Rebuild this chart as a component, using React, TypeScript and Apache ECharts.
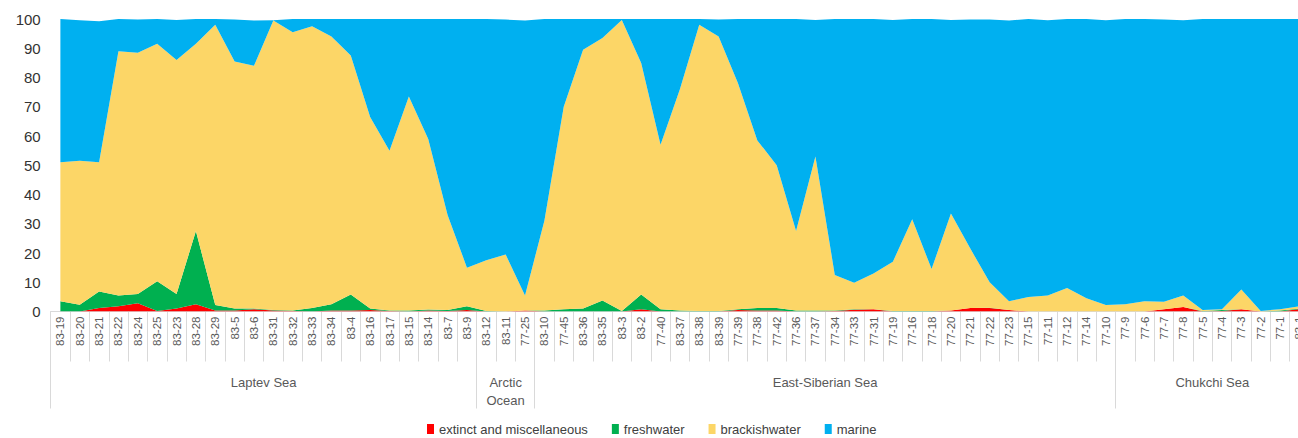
import React, { useEffect, useRef } from "react";
import * as echarts from "echarts";

const categories = [
  "83-19", "83-20", "83-21", "83-22", "83-24", "83-25", "83-23", "83-28", "83-29", "83-5", "83-6",
  "83-31", "83-32", "83-33", "83-34", "83-4", "83-16", "83-17", "83-15", "83-14", "83-7", "83-9",
  "83-12", "83-11", "77-25",
  "83-10", "77-45", "83-36", "83-35", "83-3", "83-2", "77-40", "83-37", "83-38", "83-39", "77-39",
  "77-38", "77-42", "77-36", "77-37", "77-34", "77-33", "77-31", "77-19", "77-16", "77-18", "77-20",
  "77-21", "77-22", "77-23", "77-15", "77-11", "77-12", "77-14", "77-10",
  "77-9", "77-6", "77-7", "77-8", "77-5", "77-4", "77-3", "77-2", "77-1", "83-1",
];

const groupNames = ["Laptev Sea", "Arctic\nOcean", "East-Siberian Sea", "Chukchi Sea"];
const groupCounts = [22, 3, 30, 10];

const extinct = [
  0, 0, 1.2, 1.8, 2.8, 0.2, 1, 2.5, 0.3, 0.3, 0.8, 0.3, 0.2, 0, 0.3, 0.3, 0.5, 0.2, 0, 0.3, 0.2, 0.5,
  0, 0, 0.3,
  0, 0, 0, 0, 0, 0.8, 0, 0, 0, 0, 0.5, 0.3, 0.3, 0, 0, 0.2, 0.6, 0.8, 0, 0, 0, 0.3, 1.2, 1.2, 0.5, 0, 0, 0, 0, 0,
  0, 0, 0.8, 1.5, 0, 0.2, 0.8, 0, 0, 0.8,
];
const freshwater = [
  3.5, 2.3, 5.6, 3.7, 3.2, 10.1, 5, 25, 1.9, 0.7, 0.2, 0.2, 0.1, 1.2, 2.2, 5.5, 0.5, 0.1, 0.3, 0.4, 0.3, 1.3,
  0.2, 0, 0,
  0.3, 0.8, 1, 3.8, 0.2, 5, 0.8, 0.3, 0.2, 0.2, 0.3, 0.9, 0.9, 0.3, 0.3, 0.1, 0.2, 0, 0.2, 0.2, 0.2, 0, 0, 0.1, 0, 0, 0, 0, 0, 0,
  0, 0, 0, 0, 0.2, 0.3, 0, 0, 0.3, 0.2,
];
const brackishwater = [
  47.5, 49.2, 44.2, 83.5, 82.5, 81.2, 80, 64, 95.8, 84.5, 83, 99, 95.2, 96.3, 91.5, 81.7, 65.5, 54.7, 73.2, 58.3, 32.5, 13.2,
  17.3, 19.5, 5.2,
  30.7, 69.2, 88.5, 89.7, 99.5, 79.2, 56.2, 75.7, 97.8, 93.8, 77.2, 57.3, 48.8, 27.2, 52.7, 12.2, 9, 12.2, 16.8, 31.3, 14.3, 33.2,
  20.3, 8.7, 3, 5, 5.5, 8, 4.5, 2.2,
  2.5, 3.5, 2.5, 4, 0.3, 0.3, 6.7, 0.2, 0.5, 0.8,
];
const marine = [
  49, 48.1, 48.2, 11, 11.3, 8.5, 13.7, 8.5, 2, 14.3, 15.5, 0.1, 4.5, 2.5, 6, 12.5, 33.5, 45, 26.5, 41, 67, 85,
  82.5, 80.3, 94,
  69, 30, 10.5, 6.5, 0.3, 15, 43, 24, 2, 5.8, 22, 41.5, 50, 72.5, 46.7, 87.5, 90.2, 87, 82.7, 68.5, 85.5, 66.2,
  78.3, 89.8, 96, 95, 94.1, 92, 95.5, 97.4,
  97.5, 96.5, 96.5, 94.1, 99.5, 99.2, 92.5, 99.8, 99.2, 98.2,
];

const seriesNames = ["extinct and miscellaneous", "freshwater", "brackishwater", "marine"];
const seriesColors = ["#FF0000", "#00B050", "#FCD667", "#00B0F0"];
const seriesData = [extinct, freshwater, brackishwater, marine];

export default function App() {
  const ref = useRef<HTMLDivElement>(null);
  useEffect(() => {
    if (!ref.current) return;
    const chart = echarts.init(ref.current, null, { renderer: "svg" });

    const boundaries: number[] = [0];
    const centers: number[] = [];
    let acc = 0;
    groupCounts.forEach((c) => {
      centers.push(acc + c / 2);
      acc += c;
      boundaries.push(acc);
    });

    const font = "'Liberation Sans', Arial, sans-serif";

    chart.setOption({
      animation: false,
      backgroundColor: "#ffffff",
      textStyle: { fontFamily: font },
      grid: {
        left: 50.7,
        top: 19,
        width: categories.length * 19.36,
        height: 292.5,
        containLabel: false,
        outerBoundsMode: "none",
      },
      legend: {
        show: true,
        left: 427,
        top: 422,
        padding: 0,
        itemWidth: 7,
        itemHeight: 10,
        itemGap: 24,
        icon: "rect",
        textStyle: { fontSize: 13, color: "#404040", fontFamily: font, lineHeight: 14 },
        data: seriesNames,
      },
      xAxis: [
        {
          type: "category",
          data: categories,
          boundaryGap: true,
          position: "bottom",
          axisLine: { show: true, lineStyle: { color: "#d9d9d9", width: 1 } },
          axisTick: { show: true, interval: 0, length: 50, lineStyle: { color: "#d9d9d9", width: 1 } },
          axisLabel: {
            interval: 0,
            rotate: 90,
            margin: 5,
            fontSize: 11.5,
            color: "#595959",
            fontFamily: font,
          },
          splitLine: { show: false },
        },
        {
          type: "value",
          min: 0,
          max: categories.length,
          position: "bottom",
          axisLine: { show: false },
          axisTick: {
            show: true,
            length: 97,
            customValues: boundaries,
            lineStyle: { color: "#d9d9d9", width: 1 },
          },
          axisLabel: {
            show: true,
            customValues: centers,
            margin: 62,
            fontSize: 13,
            lineHeight: 18,
            color: "#595959",
            fontFamily: font,
            verticalAlign: "top",
            formatter: (v: number) => {
              const idx = centers.findIndex((c) => Math.abs(c - v) < 0.01);
              return idx >= 0 ? groupNames[idx] : "";
            },
          },
          splitLine: { show: false },
        },
      ],
      yAxis: {
        type: "value",
        min: 0,
        max: 100,
        interval: 10,
        axisLine: { show: false },
        axisTick: { show: false },
        splitLine: { show: false },
        axisLabel: { fontSize: 15, color: "#333333", margin: 10, fontFamily: font },
      },
      series: seriesNames.map((name, i) => ({
        name,
        type: "line",
        stack: "total",
        xAxisIndex: 0,
        data: seriesData[i],
        symbol: "none",
        showSymbol: false,
        lineStyle: { width: 0, color: seriesColors[i] },
        itemStyle: { color: seriesColors[i] },
        areaStyle: { color: seriesColors[i], opacity: 1 },
        z: 2 + i,
      })),
    });
    return () => chart.dispose();
  }, []);

  return (
    <div style={{ position: "fixed", left: 0, top: 0, width: 1298, height: 438, overflow: "hidden", background: "#fff" }}>
      <div ref={ref} style={{ width: 1312, height: 438 }} />
    </div>
  );
}
